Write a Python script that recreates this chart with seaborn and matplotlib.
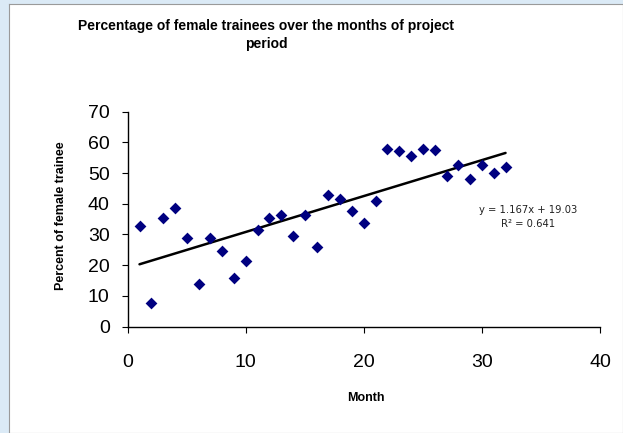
import matplotlib
matplotlib.use("Agg")
import matplotlib.pyplot as plt
import seaborn as sns
import pandas as pd

months = list(range(1, 33))
percent_female = [32.6, 7.7, 35.4, 38.6, 28.7, 13.7, 29.0, 24.7, 15.8, 21.4,
                  31.5, 35.4, 36.3, 29.6, 36.3, 25.8, 42.7, 41.5, 37.5, 33.8,
                  41.0, 57.7, 57.1, 55.6, 58.0, 57.6, 49.2, 52.5, 48.2, 52.5,
                  50.1, 51.9]
x_ticks = [0, 10, 20, 30, 40]
y_ticks = [0, 10, 20, 30, 40, 50, 60, 70]
title = "Percentage of female trainees over the months of project\nperiod"
eq_text = "y = 1.167x + 19.03\nR\u00b2 = 0.641"

df = pd.DataFrame({"Month": months, "Percent": percent_female})

sns.set_theme(style="ticks")
plt.rcParams["font.family"] = ["Liberation Sans", "DejaVu Sans"]
plt.rcParams["text.color"] = "black"

fig = plt.figure(figsize=(6.23, 4.33), dpi=100)
fig.patch.set_facecolor("#dbeaf6")

bg = fig.add_axes([9 / 623, 0, 1 - 9 / 623, 1 - 4 / 433])
bg.set_zorder(0)
bg.set_xticks([])
bg.set_yticks([])
bg.set_facecolor("white")
for s in bg.spines.values():
    s.set_color("#9a9a9a")
    s.set_linewidth(0.8)

ax = fig.add_axes([127.7 / 623, 1 - 326.5 / 433, (600 - 127.7) / 623, (326.5 - 111.7) / 433])
ax.set_zorder(1)
ax.set_facecolor("none")

sns.regplot(data=df, x="Month", y="Percent", ax=ax, ci=None, truncate=True,
            marker="D",
            scatter_kws={"s": 36, "color": "#000080", "alpha": 1.0,
                         "linewidths": 0, "zorder": 3},
            line_kws={"color": "black", "linewidth": 1.8, "zorder": 2})

ax.set_xlim(0, 40)
ax.set_ylim(0, 70)
ax.set_xticks(x_ticks)
ax.set_yticks(y_ticks)
ax.tick_params(axis="both", labelsize=14, length=4, width=0.8, color="black",
               labelcolor="black", direction="out")
ax.tick_params(axis="x", pad=16)
ax.tick_params(axis="y", pad=9)
for s in ["top", "right"]:
    ax.spines[s].set_visible(False)
for s in ["left", "bottom"]:
    ax.spines[s].set_color("black")
    ax.spines[s].set_linewidth(1.0)

ax.set_xlabel("")
ax.set_ylabel("")
fig.text(366 / 623, 1 - 398 / 433, "Month", ha="center", va="center",
         fontsize=9, fontweight="bold", zorder=5)
fig.text(61 / 623, 1 - 216 / 433, "Percent of female trainee", ha="center", va="center",
         rotation=90, fontsize=9, fontweight="bold", zorder=5)
fig.text(266 / 623, 1 - 35 / 433, title, ha="center", va="center",
         fontsize=10, fontweight="bold", linespacing=1.45, zorder=5)
fig.text(528 / 623, 1 - 217 / 433, eq_text, ha="center", va="center",
         fontsize=8, linespacing=1.6, family="DejaVu Sans", fontstretch="condensed",
         color="#222222", zorder=5)

fig.savefig("out.png", dpi=100)
